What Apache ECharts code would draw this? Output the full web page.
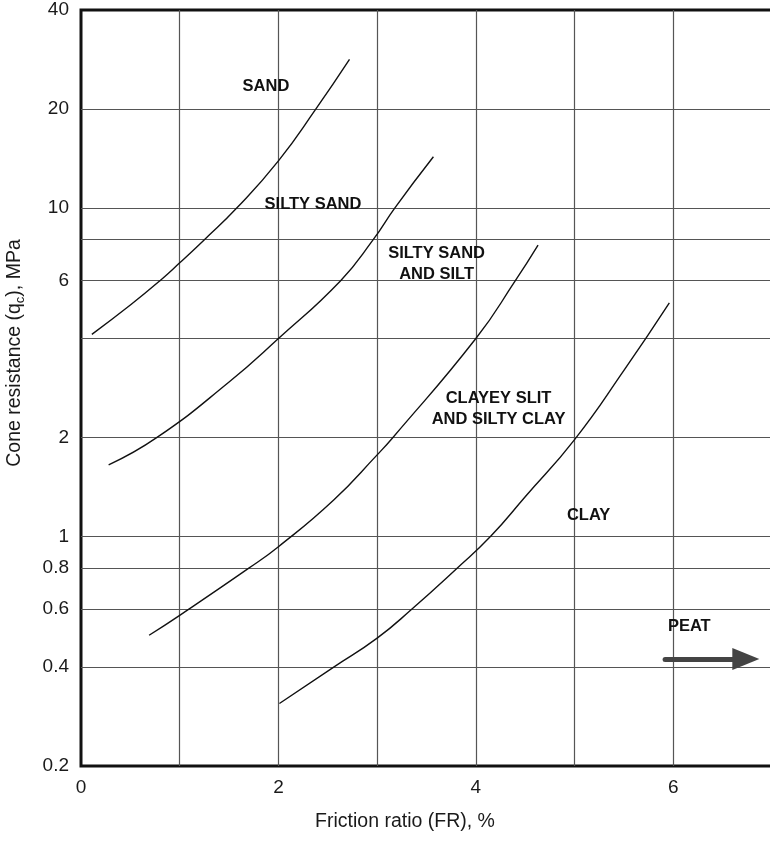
<!DOCTYPE html>
<html><head><meta charset="utf-8">
<script src="https://cdn.jsdelivr.net/npm/echarts@6/dist/echarts.min.js"></script>
<style>html,body{margin:0;padding:0;background:#fff}#c{width:770px;height:842px}</style>
</head><body><div id="c"></div>
<script>
// Axes
const xMin = 0, xMax = 7;
const yMin = 0.2, yMax = 40;
const yGridValues = [0.4, 0.6, 0.8, 1, 2, 4, 6, 8, 10, 20];
const yLabelValues = [0.2, 0.4, 0.6, 0.8, 1, 2, 6, 10, 20, 40];
const xLabelValues = [0, 2, 4, 6];

// Boundary curves: [friction ratio %, cone resistance MPa]
const curveSandSiltySand = [[0.11,4.12],[0.5,5.06],[0.8,6],[1.0,6.8],[1.25,8],[1.58,10],[2.0,13.9],[2.38,20],[2.72,28.3]];
const curveSiltySandSilt = [[0.28,1.65],[0.77,2],[1.5,2.95],[2.0,4.0],[2.63,6],[2.96,8],[3.18,10],[3.57,14.3]];
const curveSiltClayeySilt = [[0.69,0.5],[1.0,0.575],[1.7,0.8],[2.0,0.93],[2.56,1.29],[3.0,1.77],[3.16,2.0],[4.0,4.0],[4.4,6],[4.63,7.7]];
const curveClayeySiltClay = [[2.01,0.31],[2.56,0.4],[3.0,0.49],[3.35,0.6],[3.81,0.8],[4.15,1.0],[4.5,1.32],[5.0,1.97],[5.5,3.2],[5.96,5.14]];

// Zone labels
const zoneNames = ['SAND', 'SILTY SAND', 'SILTY SAND\nAND SILT', 'CLAYEY SLIT\nAND SILTY CLAY', 'CLAY', 'PEAT'];
const zoneX = [1.879, 2.355, 3.607, 4.235, 5.147, 6.167];
const zoneY = [23.3, 10.2, 6.7, 2.43, 1.15, 0.531];

// Peat arrow
const arrowX = [5.917, 6.735];
const arrowY = [0.423, 0.423];

const FONT = '"Liberation Sans", Arial, Helvetica, sans-serif';
const chart = echarts.init(document.getElementById('c'), null, {renderer: 'canvas'});

function curveSeries(name, data) {
  return {
    name: name, type: 'line', data: data, smooth: 0.5, symbol: 'none',
    lineStyle: {color: '#111', width: 1.4}, silent: true, z: 3
  };
}

const option = {
  backgroundColor: '#ffffff',
  animation: false,
  grid: {left: 81, top: 10, right: -2, bottom: 76, outerBoundsMode: 'none', containLabel: false,
    show: true, borderColor: '#111', borderWidth: 3, backgroundColor: 'transparent'},
  xAxis: {
    type: 'value', min: xMin, max: xMax, interval: 1,
    name: 'Friction ratio (FR), %', nameLocation: 'middle', nameGap: 46,
    nameTextStyle: {fontFamily: FONT, fontSize: 19.5, color: '#1a1a1a', padding: [0, 43, 0, 0]},
    axisLine: {show: false}, axisTick: {show: false},
    axisLabel: {fontFamily: FONT, fontSize: 19, color: '#1a1a1a', margin: 12, customValues: xLabelValues},
    splitLine: {show: true, showMinLine: false, showMaxLine: false, lineStyle: {color: '#555', width: 1.2}}
  },
  yAxis: {
    type: 'log', logBase: 10, min: yMin, max: yMax,
    name: '{a|Cone resistance (q}{s|c}{a|), MPa}', nameLocation: 'middle', nameGap: 54,
    nameTextStyle: {fontFamily: FONT, color: '#1a1a1a', padding: [0, 0, 0, 70],
      rich: {a: {fontFamily: FONT, fontSize: 19.5, lineHeight: 24, color: '#1a1a1a'},
             s: {fontFamily: FONT, fontSize: 13, lineHeight: 13, verticalAlign: 'bottom', color: '#1a1a1a'}}},
    axisLine: {show: false},
    axisTick: {show: false, customValues: yGridValues},
    axisLabel: {fontFamily: FONT, fontSize: 19, color: '#1a1a1a', margin: 12, customValues: yLabelValues,
      formatter: function (v) { return String(Math.round(v * 10) / 10); }},
    splitLine: {show: true, lineStyle: {color: '#555', width: 1.2}}
  },
  series: [
    curveSeries('Sand / Silty sand', curveSandSiltySand),
    curveSeries('Silty sand / Silty sand and silt', curveSiltySandSilt),
    curveSeries('Silty sand and silt / Clayey silt', curveSiltClayeySilt),
    curveSeries('Clayey silt / Clay', curveClayeySiltClay),
    {
      name: 'zones', type: 'scatter', symbolSize: 1, silent: true, z: 4,
      itemStyle: {color: 'rgba(0,0,0,0)', opacity: 1},
      data: zoneNames.map((n, i) => ({value: [zoneX[i], zoneY[i]], name: n})),
      label: {show: true, position: [0, 0], formatter: p => p.name, fontFamily: FONT, fontWeight: 'bold',
        fontSize: 16.5, lineHeight: 21, color: '#111', opacity: 1, textBorderWidth: 0,
        align: 'center', verticalAlign: 'middle'}
    },
    {
      name: 'peat arrow', type: 'line', data: [], silent: true, z: 5,
      markLine: {
        silent: true, animation: false, symbol: ['none', 'triangle'], symbolSize: [22, 27],
        label: {show: false},
        lineStyle: {color: '#444', width: 5, type: 'solid', cap: 'round'},
        itemStyle: {color: '#444'},
        data: [[{coord: [arrowX[0], arrowY[0]]}, {coord: [arrowX[1], arrowY[1]]}]]
      }
    }
  ]
};
chart.setOption(option);
</script>
</body></html>
